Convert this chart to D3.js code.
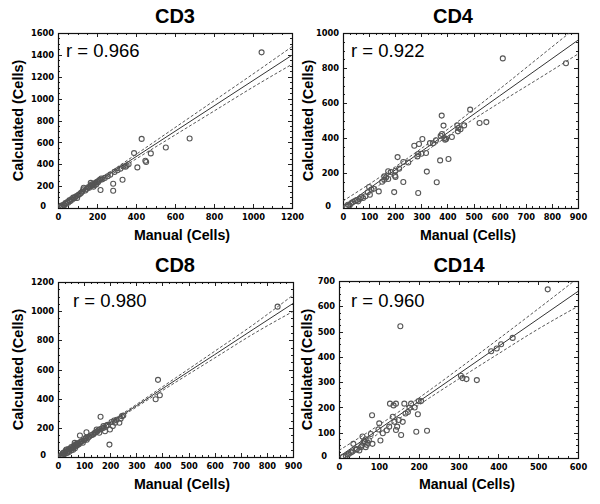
<!DOCTYPE html>
<html><head><meta charset="utf-8">
<script src="https://cdn.jsdelivr.net/npm/d3@7"></script>
<style>body{margin:0;background:#fff}svg{display:block}</style>
</head><body>
<svg id="c" width="600" height="504"></svg>
<script>
// ---------- data ----------
const panels = ["CD3", "CD4", "CD8", "CD14"];
const rValues = ["0.966", "0.922", "0.980", "0.960"];

const cd3Manual = [12,18,22,28,32,38,42,48,52,58,62,68,72,78,85,88,95,98,105,112,118,125,130,132,140,148,155,160,165,168,172,175,180,182,188,192,196,200,205,210,215,218,222,228,240,255,268,283,283,290,305,320,331,335,347,352,362,390,407,429,448,452,476,553,675,1044];
const cd3Calc   = [8,22,15,30,24,45,38,55,48,70,62,80,75,95,90,100,110,92,120,128,138,150,170,185,160,175,190,185,200,230,215,205,220,195,210,230,215,240,235,250,258,164,270,262,275,290,305,222,158,330,345,360,258,380,377,389,400,502,371,632,432,420,499,553,635,1423];

const cd4Manual = [13,19,25,32,38,45,52,58,64,70,77,86,95,100,103,109,118,137,150,158,158,165,173,173,183,196,199,201,201,209,215,231,231,250,273,285,288,288,291,300,304,318,321,333,345,356,359,372,374,378,379,385,388,391,395,404,417,438,440,442,450,464,487,523,549,612,854];
const cd4Calc   = [10,19,15,28,34,40,45,38,51,62,57,67,90,120,76,105,110,95,150,181,162,175,210,166,206,91,185,213,177,291,225,263,149,260,356,295,309,86,366,310,394,314,208,371,370,387,147,272,413,528,423,471,400,390,395,280,406,472,438,457,450,472,562,486,491,855,827];

const cd8Manual = [10,15,18,20,22,25,28,30,32,35,38,40,42,45,48,50,51,55,58,60,62,64,65,68,70,72,75,78,80,84,85,88,92,95,100,105,107,109,110,115,120,128,135,140,145,148,150,155,158,160,163,168,174,175,180,185,190,197,199,205,210,215,219,225,235,240,245,250,374,383,390,841];
const cd8Calc   = [8,15,25,12,30,20,35,45,51,28,42,55,35,50,60,45,69,62,50,72,80,97,60,85,75,90,82,95,88,147,100,105,110,98,115,125,131,170,118,132,140,150,155,165,170,189,175,185,166,190,276,195,212,200,177,215,220,85,189,240,212,250,235,255,235,262,280,285,396,529,423,1031];

const cd14Manual = [10,17,22,25,30,34,36,42,45,51,55,58,59,62,65,67,67,70,72,75,80,83,84,99,101,104,110,120,126,128,135,137,139,143,143,146,150,154,156,160,164,167,173,177,181,190,194,198,200,206,221,306,310,320,346,382,396,407,436,524];
const cd14Calc   = [5,9,14,17,22,26,56,33,35,30,43,50,85,65,62,43,74,52,60,70,95,169,56,113,137,69,98,110,124,215,163,208,143,111,215,124,150,521,91,143,215,176,182,199,215,200,104,173,225,225,108,325,316,312,308,422,433,450,475,667];

// regression line and confidence bands
const cd3BandX = [0,200,400,600,800,1000,1200];
const cd3Fit   = [5,237,469,701,933,1165,1397];
const cd3Upper = [20,250,490,735,980,1225,1475];
const cd3Lower = [-10,224,448,667,886,1105,1314];

const cd4BandX = [0,150,300,450,600,750,900];
const cd4Fit   = [5,164,323,482,641,800,959];
const cd4Upper = [40,185,340,505,680,860,1040];
const cd4Lower = [-30,143,306,459,602,740,880];

const cd8BandX = [0,150,300,450,600,750,900];
const cd8Fit   = [0,176,351,527,702,878,1053];
const cd8Upper = [8,183,360,542,725,910,1110];
const cd8Lower = [-8,169,342,512,679,846,998];

const cd14BandX = [0,100,200,300,400,500,600];
const cd14Fit   = [5,114,223,332,441,550,659];
const cd14Upper = [30,130,237,352,470,590,712];
const cd14Lower = [-20,98,209,312,412,510,600];

// tick labels
const cd3XTicks = [0,200,400,600,800,1000,1200];
const cd3YTicks = [0,200,400,600,800,1000,1200,1400,1600];
const cd4XTicks = [0,100,200,300,400,500,600,700,800,900];
const cd4YTicks = [0,200,400,600,800,1000];
const cd8XTicks = [0,100,200,300,400,500,600,700,800,900];
const cd8YTicks = [0,200,400,600,800,1000,1200];
const cd14XTicks = [0,100,200,300,400,500,600];
const cd14YTicks = [0,100,200,300,400,500,600,700];

// ---------- layout ----------
const layout = [
  {x0:58,  x1:292, y0:33,  y1:208, titleX:175, titleY:23, rX:66,  rY:57,  yLabX:23,  xLabX:182, xLabY:240},
  {x0:343, x1:578, y0:33,  y1:208, titleX:453, titleY:23, rX:351, rY:57,  yLabX:313, xLabX:468, xLabY:240},
  {x0:58,  x1:293, y0:282, y1:457, titleX:175, titleY:272, rX:73, rY:307, yLabX:23,  xLabX:182, xLabY:489},
  {x0:339, x1:578, y0:281, y1:458, titleX:459, titleY:272, rX:351, rY:307, yLabX:312, xLabX:467, xLabY:489}
];

const series = [
  {mx:cd3Manual, cy:cd3Calc, bx:cd3BandX, fit:cd3Fit, up:cd3Upper, lo:cd3Lower, xt:cd3XTicks, yt:cd3YTicks},
  {mx:cd4Manual, cy:cd4Calc, bx:cd4BandX, fit:cd4Fit, up:cd4Upper, lo:cd4Lower, xt:cd4XTicks, yt:cd4YTicks},
  {mx:cd8Manual, cy:cd8Calc, bx:cd8BandX, fit:cd8Fit, up:cd8Upper, lo:cd8Lower, xt:cd8XTicks, yt:cd8YTicks},
  {mx:cd14Manual, cy:cd14Calc, bx:cd14BandX, fit:cd14Fit, up:cd14Upper, lo:cd14Lower, xt:cd14XTicks, yt:cd14YTicks}
];

const svg = d3.select("#c");
svg.append("rect").attr("width",600).attr("height",504).attr("fill","#fff");
const FONT = "'Liberation Sans', Arial, sans-serif";

panels.forEach((name, i) => {
  const L = layout[i], S = series[i];
  const xMax = S.xt[S.xt.length-1], yMax = S.yt[S.yt.length-1];
  const x = d3.scaleLinear().domain([0, xMax]).range([L.x0, L.x1]);
  const y = d3.scaleLinear().domain([0, yMax]).range([L.y1, L.y0]);
  const g = svg.append("g");

  const clipId = "clip" + i;
  svg.append("clipPath").attr("id", clipId).append("rect")
    .attr("x", L.x0).attr("y", L.y0).attr("width", L.x1 - L.x0).attr("height", L.y1 - L.y0);

  // title
  g.append("text").attr("x", L.titleX).attr("y", L.titleY).attr("text-anchor","middle")
    .attr("font-family", FONT).attr("font-weight","bold").attr("font-size", 20).attr("fill","#000").text(name);

  // minor/major ticks on all sides (inside)
  const xStep = S.xt[1] - S.xt[0], yStep = S.yt[1] - S.yt[0];
  const xMinor = d3.range(0, xMax + 1e-9, xStep/4);
  const yMinor = d3.range(0, yMax + 1e-9, yStep/4);
  const tg = g.append("g").attr("stroke","#222").attr("stroke-width",1);
  xMinor.forEach((v, k) => {
    const len = (k % 4 === 0) ? 4 : 2;
    const px = Math.round(x(v)) + 0.5;
    tg.append("line").attr("x1",px).attr("x2",px).attr("y1",L.y1).attr("y2",L.y1-len);
    tg.append("line").attr("x1",px).attr("x2",px).attr("y1",L.y0).attr("y2",L.y0+len);
  });
  yMinor.forEach((v, k) => {
    const len = (k % 4 === 0) ? 4 : 2;
    const py = Math.round(y(v)) + 0.5;
    tg.append("line").attr("y1",py).attr("y2",py).attr("x1",L.x0).attr("x2",L.x0+len);
    tg.append("line").attr("y1",py).attr("y2",py).attr("x1",L.x1).attr("x2",L.x1-len);
  });

  // axes with D3 (labels only, ticks drawn above)
  const xAxis = d3.axisBottom(x).tickValues(S.xt).tickSize(0).tickPadding(5).tickFormat(d3.format("d"));
  const yAxis = d3.axisLeft(y).tickValues(S.yt).tickSize(0).tickPadding(4).tickFormat(d3.format("d"));
  const gx = g.append("g").attr("transform", `translate(0,${L.y1})`).call(xAxis);
  const gy = g.append("g").attr("transform", `translate(${L.x0},0)`).call(yAxis);
  [gx, gy].forEach(a => {
    a.select(".domain").remove();
    a.selectAll("text").attr("font-family","'DejaVu Sans', Verdana, sans-serif")
      .attr("font-weight","bold").attr("font-size",8.3).attr("fill","#000");
  });
  gx.selectAll("text").attr("dy","0.8em");
  gy.selectAll(".tick").filter(d => d === 0).select("text").attr("x", -12).attr("dy","0.1em");

  // frame
  g.append("rect").attr("x", L.x0 + 0.5).attr("y", L.y0 + 0.5)
    .attr("width", L.x1 - L.x0).attr("height", L.y1 - L.y0)
    .attr("fill","none").attr("stroke","#111").attr("stroke-width",1.2);

  // regression line + bands
  const pts = arr => S.bx.map((v, k) => [v, arr[k]]);
  const line = d3.line().x(d => x(d[0])).y(d => y(d[1])).curve(d3.curveMonotoneX);
  const lg = g.append("g").attr("clip-path", `url(#${clipId})`).attr("fill","none");
  lg.append("path").attr("d", line(pts(S.up))).attr("stroke","#444").attr("stroke-width",0.9).attr("stroke-dasharray","3,2");
  lg.append("path").attr("d", line(pts(S.lo))).attr("stroke","#444").attr("stroke-width",0.9).attr("stroke-dasharray","3,2");
  lg.append("path").attr("d", line(pts(S.fit))).attr("stroke","#333").attr("stroke-width",1);

  // points
  const pg = g.append("g").attr("clip-path", `url(#${clipId})`);
  pg.selectAll("circle").data(S.mx.map((v, k) => [v, S.cy[k]])).join("circle")
    .attr("cx", d => x(d[0])).attr("cy", d => y(d[1])).attr("r", 2.5)
    .attr("fill","none").attr("stroke","#555").attr("stroke-width",1.1);

  // r value
  g.append("text").attr("x", L.rX).attr("y", L.rY).attr("font-family", FONT)
    .attr("font-size", 18.5).attr("fill","#000").text("r = " + rValues[i]);

  // axis titles
  g.append("text").attr("x", L.xLabX).attr("y", L.xLabY).attr("text-anchor","middle")
    .attr("font-family", FONT).attr("font-weight","bold").attr("font-size", 14.2).attr("fill","#000").text("Manual (Cells)");
  const cy = (L.y0 + L.y1) / 2;
  g.append("text").attr("transform", `translate(${L.yLabX},${cy}) rotate(-90)`).attr("text-anchor","middle")
    .attr("font-family", FONT).attr("font-weight","bold").attr("font-size", 14.5).attr("fill","#000").text("Calculated (Cells)");
});
</script>
</body></html>
